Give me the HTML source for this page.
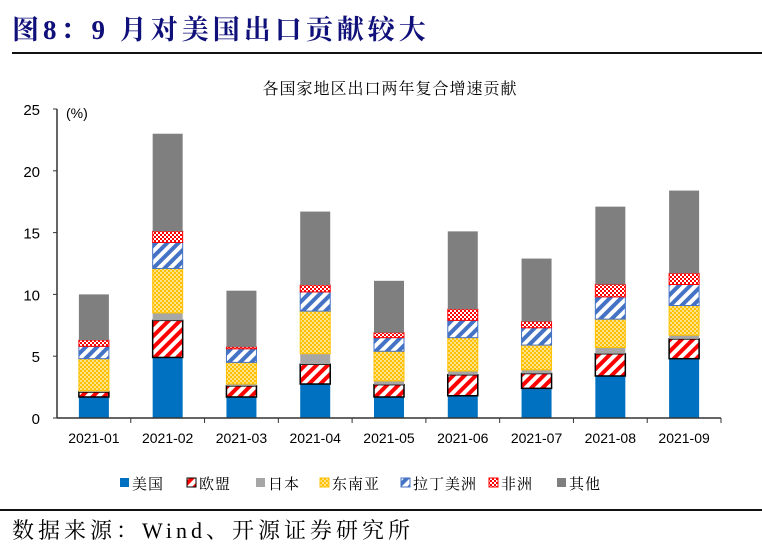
<!DOCTYPE html>
<html><head><meta charset="utf-8"><style>
body{margin:0;background:#fff;width:762px;height:556px;overflow:hidden;position:relative;font-family:"Liberation Serif","Noto Serif CJK SC",serif}
.t{position:absolute}
</style></head><body>
<div class="t" style="left:12px;top:8px;font-size:27px;font-weight:bold;color:#10107a;letter-spacing:4px;white-space:nowrap">图8：9 月对美国出口贡献较大</div>
<div class="t" style="left:12px;top:52px;width:750px;height:2px;background:#111"></div>
<svg class="t" style="left:0;top:0" width="762" height="556">
<defs>
<pattern id="pEU" width="8" height="8" patternUnits="userSpaceOnUse" patternTransform="rotate(45)"><rect width="8" height="8" fill="#fff"/><rect width="4" height="8" fill="#f00"/></pattern>
<pattern id="pLA" width="8" height="8" patternUnits="userSpaceOnUse" patternTransform="rotate(45)"><rect width="8" height="8" fill="#fff"/><rect width="4" height="8" fill="#4472c4"/></pattern>
<pattern id="pSEA" width="4" height="4" patternUnits="userSpaceOnUse"><rect width="4" height="4" fill="#ffc000"/><rect width="2" height="2" fill="#ffe38a"/><rect x="2" y="2" width="2" height="2" fill="#ffe38a"/></pattern>
<pattern id="pAF" width="4" height="4" patternUnits="userSpaceOnUse"><rect width="4" height="4" fill="#f00"/><rect width="2" height="2" fill="#fff"/><rect x="2" y="2" width="2" height="2" fill="#fff"/></pattern>
</defs>
<g id="g"></g>
</svg>
<div class="t" style="left:0;top:509px;width:762px;height:2px;background:#111"></div>
<div class="t" style="left:12px;top:514px;font-size:22px;letter-spacing:4px;color:#000;white-space:nowrap">数据来源：Wind、开源证券研究所</div>
<script>
const categories=["2021-01","2021-02","2021-03","2021-04","2021-05","2021-06","2021-07","2021-08","2021-09"];
const seriesNames=["美国","欧盟","日本","东南亚","拉丁美洲","非洲","其他"];
const us=[1.7,4.9,1.7,2.75,1.7,1.8,2.4,3.4,4.8];
const eu=[0.4,3.0,0.9,1.6,1.0,1.7,1.2,1.8,1.6];
const jp=[0.1,0.6,0.15,0.85,0.3,0.3,0.3,0.5,0.3];
const sea=[2.6,3.6,1.75,3.45,2.4,2.7,2.0,2.3,2.4];
const latam=[1.0,2.1,1.1,1.55,1.1,1.4,1.4,1.8,1.7];
const africa=[0.5,0.9,0.15,0.55,0.4,0.9,0.5,1.0,0.9];
const other=[3.7,7.9,4.55,5.95,4.2,6.3,5.1,6.3,6.7];
const yTicks=[0,5,10,15,20,25];
const series=[us,eu,jp,sea,latam,africa,other];
const fills=["#0070c0","url(#pEU)","#a6a6a6","url(#pSEA)","url(#pLA)","url(#pAF)","#7f7f7f"];
const strokes=["none","#000","none","#ffc000","#4472c4","#f00","none"];
const keys=["us","eu","japan","sea","latam","africa","other"];
const X0=57,X1=721,Y0=418,Y1=109,YMAX=25;
const bw=(X1-X0)/categories.length;
const y=v=>Y0-(v/YMAX)*(Y0-Y1);
const xc=i=>X0+bw*(i+0.5);
const NS="http://www.w3.org/2000/svg";
const g=document.getElementById('g');
function mk(t,a){const e=document.createElementNS(NS,t);for(const k in a)e.setAttribute(k,a[k]);g.appendChild(e);return e;}
let e=mk('text',{x:390,y:94,'text-anchor':'middle','font-size':16,'letter-spacing':1,'font-family':'"Liberation Serif","Noto Serif CJK SC",serif'});e.textContent="各国家地区出口两年复合增速贡献";


e=mk('text',{x:66,y:118,'font-size':14,'font-family':'"Liberation Sans",sans-serif'});e.textContent="(%)";


yTicks.forEach(v=>{const t=mk('text',{x:40,y:y(v)+6,'text-anchor':'end','font-size':15,'font-family':'"Liberation Sans",sans-serif'});t.textContent=v;


const l=mk('line',{x1:X0-4,x2:X0,y1:y(v),y2:y(v),stroke:'#333'});

});
categories.forEach((c,i)=>{let cum=0;
series.forEach((s,k)=>{const v=s[i];const r=mk('rect',{x:xc(i)-15,y:y(cum+v),width:30,height:Math.max(0,y(cum)-y(cum+v)),fill:fills[k],stroke:strokes[k],'stroke-width':strokes[k]==='#000'?1.5:1});


cum+=v;});
const t=mk('text',{x:xc(i),y:443,'text-anchor':'middle','font-size':14,'font-family':'"Liberation Sans",sans-serif'});t.textContent=c;


const l=mk('line',{x1:X0+bw*(i+1),x2:X0+bw*(i+1),y1:Y0,y2:Y0+5,stroke:'#333'});

});
e=mk('line',{x1:X0,x2:X0,y1:Y1,y2:Y0,stroke:'#333','stroke-width':1.5});


e=mk('line',{x1:X0,x2:X1,y1:Y0,y2:Y0,stroke:'#333','stroke-width':1.5});


const lx=[120,187,256,320,401,489,557];
seriesNames.forEach((n,k)=>{const r=mk('rect',{x:lx[k],y:478,width:9,height:9,fill:fills[k],stroke:strokes[k]==='none'?'none':strokes[k]});


const t=mk('text',{x:lx[k]+12,y:489,'font-size':15,'letter-spacing':1,'font-family':'"Liberation Serif","Noto Serif CJK SC",serif'});t.textContent=n;

});
</script>
</body></html>
